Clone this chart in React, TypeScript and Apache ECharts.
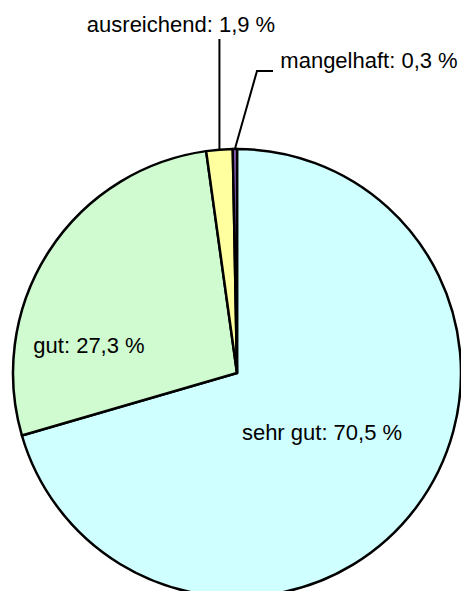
import React, { useEffect, useRef } from "react";
import * as echarts from "echarts";

const categories = ["sehr gut", "gut", "ausreichend", "mangelhaft"];
const values = [70.5, 27.3, 1.9, 0.3];
const colors = ["#D0FFFF", "#D0FAD0", "#FFFFA0", "#9966CC"];

const fmt = (v: number) => v.toFixed(1).replace(".", ",");

export default function App() {
  const ref = useRef<HTMLDivElement>(null);
  useEffect(() => {
    if (!ref.current) return;
    const chart = echarts.init(ref.current, undefined, { renderer: "svg" });
    const insideIdx = [0, 1];
    const labelPos: Record<number, [number, number]> = {
      0: [322, 432],
      1: [89, 345],
      2: [181, 24],
      3: [369, 60],
    };
    chart.setOption({
      animation: false,
      backgroundColor: "#ffffff",
      series: [
        {
          type: "pie",
          center: [237, 373],
          radius: 224,
          startAngle: 90,
          clockwise: true,
          avoidLabelOverlap: false,
          silent: true,
          emphasis: { disabled: true },
          itemStyle: { borderColor: "#000", borderWidth: 2.5 },
          label: {
            show: true,
            formatter: (p: any) => `${p.name}: ${fmt(p.value)} %`,
            fontFamily: "'Liberation Sans', Arial, sans-serif",
            fontSize: 22,
            color: "#000",
          },
          labelLine: {
            show: true,
            lineStyle: { color: "#000", width: 2 },
          },
          labelLayout: (params: any) => {
            const i = params.dataIndex;
            const [x, y] = labelPos[i];
            const res: any = { x, y, align: "center", verticalAlign: "middle" };
            const pts = params.labelLinePoints;
            if (i === 2 && pts) {
              const a = pts[0];
              res.labelLinePoints = [
                [a[0], a[1]],
                [a[0], 39],
              ];
            } else if (i === 3 && pts) {
              const a = pts[0];
              res.labelLinePoints = [
                [a[0], a[1]],
                [257, 71],
                [273, 71],
              ];
            }
            return res;
          },
          data: categories.map((name, i) => ({
            name,
            value: values[i],
            itemStyle: { color: colors[i] },
            label: { position: insideIdx.includes(i) ? "inside" : "outside" },
            labelLine: { show: !insideIdx.includes(i) },
          })),
        },
      ],
    });
    return () => chart.dispose();
  }, []);
  return (
    <div
      ref={ref}
      style={{ position: "fixed", left: 0, top: 0, width: 461, height: 591 }}
    />
  );
}
